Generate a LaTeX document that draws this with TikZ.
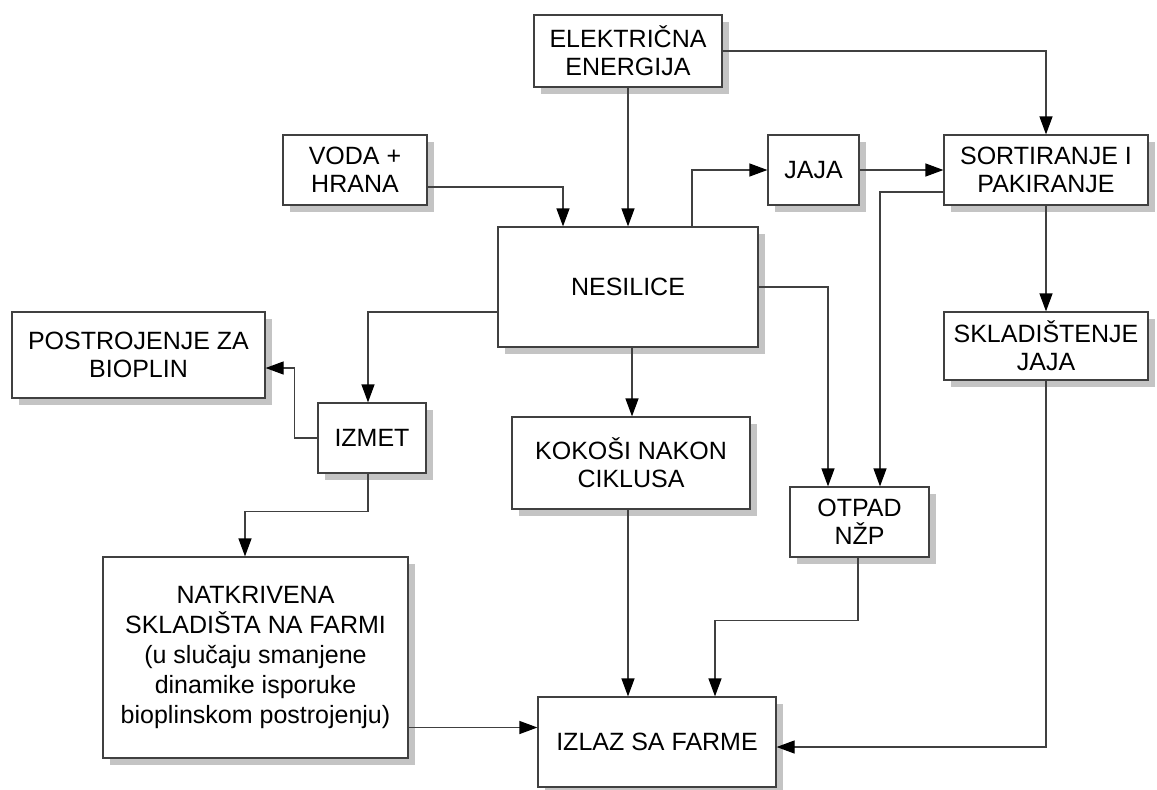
\documentclass[tikz,border=0pt]{standalone}
\usepackage{fontspec}
\setmainfont{Liberation Sans}
\usetikzlibrary{arrows.meta, shadows}
\definecolor{linegray}{HTML}{404040}
\definecolor{shadegray}{HTML}{C4C4C4}
\tikzset{>={Triangle[length=18pt,width=13pt,color=black]}}

\begin{document}
\begin{tikzpicture}[x=1pt, y=-1pt,
  box/.style={draw=linegray, line width=1.2pt, fill=white, inner sep=0pt, align=center,
    font=\fontsize{25}{28}\selectfont,
    drop shadow={shadow xshift=7pt, shadow yshift=-7pt, fill=shadegray, opacity=1}},
  flow/.style={->, draw=linegray, line width=1.2pt}]
\useasboundingbox (0,0) rectangle (1157,790);
\node[box, minimum width=188pt, minimum height=72pt] (elek) at (628,51) {ELEKTRIČNA\\ENERGIJA};
\node[box, minimum width=144pt, minimum height=70pt] (voda) at (355,170) {VODA +\\HRANA};
\node[box, minimum width=91pt, minimum height=70pt] (jaja) at (813.5,170) {JAJA};
\node[box, minimum width=204pt, minimum height=70pt] (sort) at (1046,170) {SORTIRANJE I\\PAKIRANJE};
\node[box, minimum width=260pt, minimum height=120pt] (nes) at (628,287) {NESILICE};
\node[box, minimum width=253pt, minimum height=86pt] (bio) at (138.5,355) {POSTROJENJE ZA\\BIOPLIN};
\node[box, minimum width=204pt, minimum height=68pt] (skl) at (1046,346) {SKLADIŠTENJE\\JAJA};
\node[box, minimum width=108pt, minimum height=70pt] (izmet) at (372,438) {IZMET};
\node[box, minimum width=238pt, minimum height=92pt] (kokosi) at (631,463) {KOKOŠI NAKON\\CIKLUSA};
\node[box, minimum width=139pt, minimum height=70pt] (otpad) at (859.5,522) {OTPAD\\NŽP};
\node[box, minimum width=305pt, minimum height=201pt, font=\fontsize{25}{30}\selectfont] (natk) at (255.5,657.5)
  {NATKRIVENA\\SKLADIŠTA NA FARMI\\(u slučaju smanjene\\dinamike isporuke\\bioplinskom postrojenju)};
\node[box, minimum width=238pt, minimum height=90pt] (izlaz) at (657,742) {IZLAZ SA FARME};
\draw[flow] (elek) -- (nes);
\draw[flow] (elek.east) -| (sort.north);
\draw[flow] ([yshift=-17pt]voda.east) -| ([xshift=-65pt]nes.north);
\draw[flow] ([xshift=64pt]nes.north) |- (jaja.west);
\draw[flow] (jaja) -- (sort);
\draw[flow] ([yshift=-22pt]sort.west) -| ([xshift=20.5pt]otpad.north);
\draw[flow] (nes.east) -| ([xshift=-31.5pt]otpad.north);
\draw[flow] (sort.south) -- (skl.north);
\draw[flow] ([yshift=-25pt]nes.west) -| ([xshift=-4pt]izmet.north);
\draw[flow] ([xshift=4pt]nes.south) -- ([xshift=1pt]kokosi.north);
\draw[flow] (izmet.west) -- ++(-23,0) |- ([yshift=-13pt]bio.east);
\draw[flow] ([xshift=-4pt]izmet.south) -- ++(0,38) -| ([xshift=-10.5pt]natk.north);
\draw[flow] ([xshift=-3pt]kokosi.south) -- ([xshift=-29pt]izlaz.north);
\draw[flow] ([xshift=-1.5pt]otpad.south) -- ++(0,63) -| ([xshift=58pt]izlaz.north);
\draw[flow] ([yshift=-70pt]natk.east) -- ([yshift=-70pt]natk.east -| izlaz.west);
\draw[flow] (skl.south) |- ([yshift=-5pt]izlaz.east);
\end{tikzpicture}
\end{document}
